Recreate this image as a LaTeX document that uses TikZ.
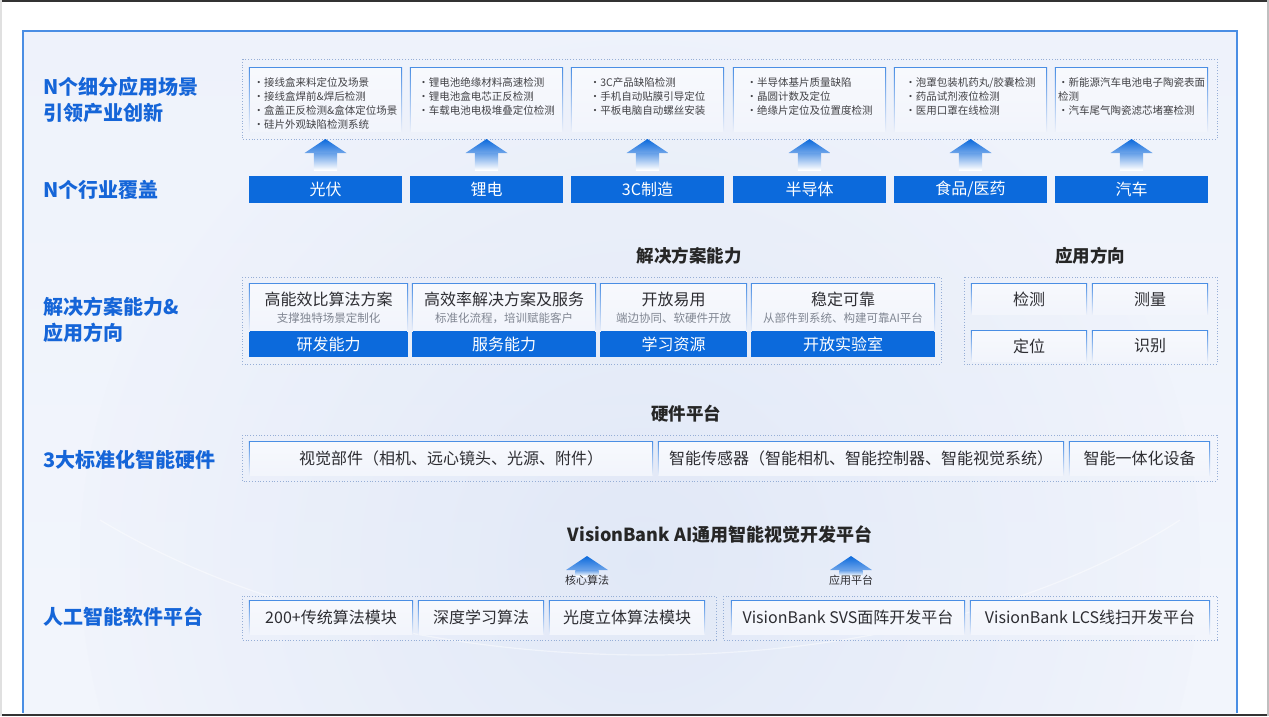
\documentclass[tikz,border=0pt]{standalone}
\usepackage{fontspec}
\setmainfont{Noto Sans CJK SC}
\usetikzlibrary{calc}
\definecolor{barblue}{RGB}{12,106,220}
\definecolor{headblue}{RGB}{21,101,216}
\definecolor{lineblue}{RGB}{74,142,228}
\definecolor{txt}{RGB}{45,45,50}
\definecolor{subg}{RGB}{128,134,146}
\definecolor{panelbg}{RGB}{234,239,250}
\definecolor{boxbg}{RGB}{236,240,250}
\definecolor{dotc}{RGB}{150,174,214}
\definecolor{globec}{RGB}{214,224,244}
\newcommand\blockarrow[5]{%
  \shade[top color=barblue, bottom color=lineblue!80] (#1-#5,#3) -- (#1,#2) -- (#1+#5,#3) -- cycle;
  \shade[top color=lineblue!85, bottom color=white] (#1-0.55*#5,#3) rectangle (#1+0.55*#5,#4);
}
\tikzset{
  wbox/.style={top color=white!60!boxbg, bottom color=boxbg!70!white, inner sep=0, draw=none},
  bar/.style={fill=barblue, text=white, inner sep=0, font=\fontsize{16}{18}\selectfont},
  lab/.style={text=headblue, font=\bfseries\fontsize{20}{26}\selectfont, align=left, inner sep=0, anchor=west},
  headtxt/.style={text=black!85, font=\bfseries\fontsize{17.5}{20}\selectfont, inner sep=0},
  bul/.style={text=txt!90, font=\fontsize{10.5}{14}\selectfont, align=left, inner sep=0, anchor=north},
  dotbox/.style={draw=dotc, line width=0.8pt, dash pattern=on 1pt off 1.8pt},
  t16/.style={text=txt, font=\fontsize{16}{18}\selectfont, inner sep=0},
  subt/.style={text=subg, font=\fontsize{11.5}{13}\selectfont, inner sep=0},
  smallt/.style={text=txt, font=\fontsize{11}{13}\selectfont, inner sep=0},
}
\begin{document}
\begin{tikzpicture}[x=1pt,y=-1pt]
\useasboundingbox (0,0) rectangle (1269,716);
\fill[white] (0,0) rectangle (1269,716);
% panel
\shade[top color=panelbg!80!white, bottom color=panelbg!60!white] (23,31) rectangle (1237,713);
\begin{scope}
  \clip (23,31) rectangle (1237,713);
  \shade[inner color=globec, outer color=panelbg!75!white, opacity=0.6] (640,560) circle (560);
  \draw[white, opacity=0.45, line width=1.2pt] (100,520) .. controls (400,700) and (900,700) .. (1180,520);
\end{scope}
\draw[lineblue, line width=1.1pt] (23,713) -- (23,31) -- (1237,31) -- (1237,713);
% image frame
\fill[black!80] (0,0) rectangle (1269,2.2);
\fill[black!80] (0,713.5) rectangle (1269,716);
\fill[black!25] (1266.5,0) rectangle (1269,716);
\fill[black!12] (0,0) rectangle (1.5,716);

% left labels
\node[lab] (l1) at (43,100) {N个细分应用场景\\引领产业创新};
\node[lab] (l2) at (43,190) {N个行业覆盖};
\node[lab] (l3) at (43,320) {解决方案能力\&\\应用方向};
\node[lab] (l4) at (43,460) {3大标准化智能硬件};
\node[lab] (l5) at (43,617) {人工智能软件平台};

% ---------- top section ----------
\draw[dotbox] (242,59) rectangle (1217,139);
\foreach \n/\cx in {s1/325.5,s2/486.5,s3/647.5,s4/809.5,s5/970.5,s6/1131.5}{
  \node[wbox, minimum width=153, minimum height=63] (\n) at (\cx,99.5) {};
}
\node[bul] (b1) at (s1.center |- 0,77) {·接线盒来料定位及场景\\·接线盒焊前\&焊后检测\\·盒盖正反检测\&盒体定位场景\\·硅片外观缺陷检测系统};
\node[bul] (b2) at (s2.center |- 0,77) {·锂电池绝缘材料高速检测\\·锂电池盒电芯正反检测\\·车载电池电极堆叠定位检测};
\node[bul] (b3) at (s3.center |- 0,77) {·3C产品缺陷检测\\·手机自动贴膜引导定位\\·平板电脑自动螺丝安装};
\node[bul] (b4) at (s4.center |- 0,77) {·半导体基片质量缺陷\\·晶圆计数及定位\\·绝缘片定位及位置度检测};
\node[bul] (b5) at (s5.center |- 0,77) {·泡罩包装机药丸/胶囊检测\\·药品试剂液位检测\\·医用口罩在线检测};
\node[bul] (b6) at (s6.center |- 0,77) {·新能源汽车电池电子陶瓷表面\\检测\\·汽车尾气陶瓷滤芯堵塞检测};

\node[bar, minimum width=153, minimum height=27] (i1) at (325.5,189.5) {光伏};
\node[bar, minimum width=153, minimum height=27] (i2) at (486.5,189.5) {锂电};
\node[bar, minimum width=153, minimum height=27] (i3) at (647.5,189.5) {3C制造};
\node[bar, minimum width=153, minimum height=27] (i4) at (809.5,189.5) {半导体};
\node[bar, minimum width=153, minimum height=27] (i5) at (970.5,189.5) {食品/医药};
\node[bar, minimum width=153, minimum height=27] (i6) at (1131.5,189.5) {汽车};

\foreach \cx in {325.5,486.5,647.5,809.5,970.5,1131.5}{
  \blockarrow{\cx}{139}{153}{170}{21}
}

% ---------- middle section ----------
\node[headtxt] (h1) at (689,256) {解决方案能力};
\node[headtxt] (h2) at (1090,256) {应用方向};
\draw[dotbox] (242,277) rectangle (941,364);
\draw[dotbox] (964,277) rectangle (1217,364);

\node[wbox, minimum width=159, minimum height=47] (m1) at (328.5,307.5) {};
\node[wbox, minimum width=184, minimum height=47] (m2) at (504,307.5) {};
\node[wbox, minimum width=147, minimum height=47] (m3) at (673.5,307.5) {};
\node[wbox, minimum width=184, minimum height=47] (m4) at (843,307.5) {};

\node[t16] (mt1) at (328.5,299) {高能效比算法方案};
\node[subt] (ms1) at (328.5,318.5) {支撑独特场景定制化};
\node[t16] (mt2) at (504,299) {高效率解决方案及服务};
\node[subt] (ms2) at (504,318.5) {标准化流程，培训赋能客户};
\node[t16] (mt3) at (673.5,299) {开放易用};
\node[subt] (ms3) at (673.5,318.5) {端边协同、软硬件开放};
\node[t16] (mt4) at (843,299) {稳定可靠};
\node[subt] (ms4) at (843,318.5) {从部件到系统、构建可靠AI平台};

\node[bar, minimum width=159, minimum height=26] (mb1) at (328.5,344) {研发能力};
\node[bar, minimum width=184, minimum height=26] (mb2) at (504,344) {服务能力};
\node[bar, minimum width=147, minimum height=26] (mb3) at (673.5,344) {学习资源};
\node[bar, minimum width=184, minimum height=26] (mb4) at (843,344) {开放实验室};

\node[wbox, t16, minimum width=116, minimum height=30] (a1) at (1029,299) {检测};
\node[wbox, t16, minimum width=116, minimum height=30] (a2) at (1150,299) {测量};
\node[wbox, t16, minimum width=116, minimum height=30] (a3) at (1029,346) {定位};
\node[wbox, t16, minimum width=116, minimum height=30] (a4) at (1150,346) {识别};

% ---------- hardware ----------
\node[headtxt] (h3) at (686,414) {硬件平台};
\draw[dotbox] (242,435) rectangle (1217,481);
\node[wbox, t16, minimum width=404, minimum height=33] (w1) at (451,458.5) {视觉部件（相机、远心镜头、光源、附件）};
\node[wbox, t16, minimum width=406, minimum height=33] (w2) at (861,458.5) {智能传感器（智能相机、智能控制器、智能视觉系统）};
\node[wbox, t16, minimum width=141, minimum height=33] (w3) at (1139.5,458.5) {智能一体化设备};

% ---------- software ----------
\node[headtxt, font=\bfseries\fontsize{18}{20}\selectfont] (h4) at (720,534) {VisionBank AI通用智能视觉开发平台};
\blockarrow{587}{556}{570}{576}{21}
\blockarrow{851}{556}{570}{576}{21}
\node[smallt] (c1) at (587,580) {核心算法};
\node[smallt] (c2) at (851,580) {应用平台};
\draw[dotbox] (242,596) rectangle (716,640);
\draw[dotbox] (723,596) rectangle (1217,640);
\node[wbox, t16, minimum width=164, minimum height=33] (v1) at (331,617.5) {200+传统算法模块};
\node[wbox, t16, minimum width=126, minimum height=33] (v2) at (481,617.5) {深度学习算法};
\node[wbox, t16, minimum width=156, minimum height=33] (v3) at (627,617.5) {光度立体算法模块};
\node[wbox, t16, minimum width=234, minimum height=33] (v4) at (848,617.5) {VisionBank SVS面阵开发平台};
\node[wbox, t16, minimum width=240, minimum height=33] (v5) at (1090,617.5) {VisionBank LCS线扫开发平台};

% box edges
\foreach \n in {s1,s2,s3,s4,s5,s6,m1,m2,m3,m4,a1,a2,a3,a4,w1,w2,w3,v1,v2,v3,v4,v5}{
  \shade[top color=lineblue, bottom color=boxbg] (\n.north west) rectangle ($(\n.south west)+(1,0)$);
  \shade[top color=lineblue, bottom color=boxbg] (\n.north east) rectangle ($(\n.south east)+(-1,0)$);
  \draw[lineblue, line width=1.3pt] (\n.north west) -- (\n.north east);
}
\end{tikzpicture}
\end{document}
